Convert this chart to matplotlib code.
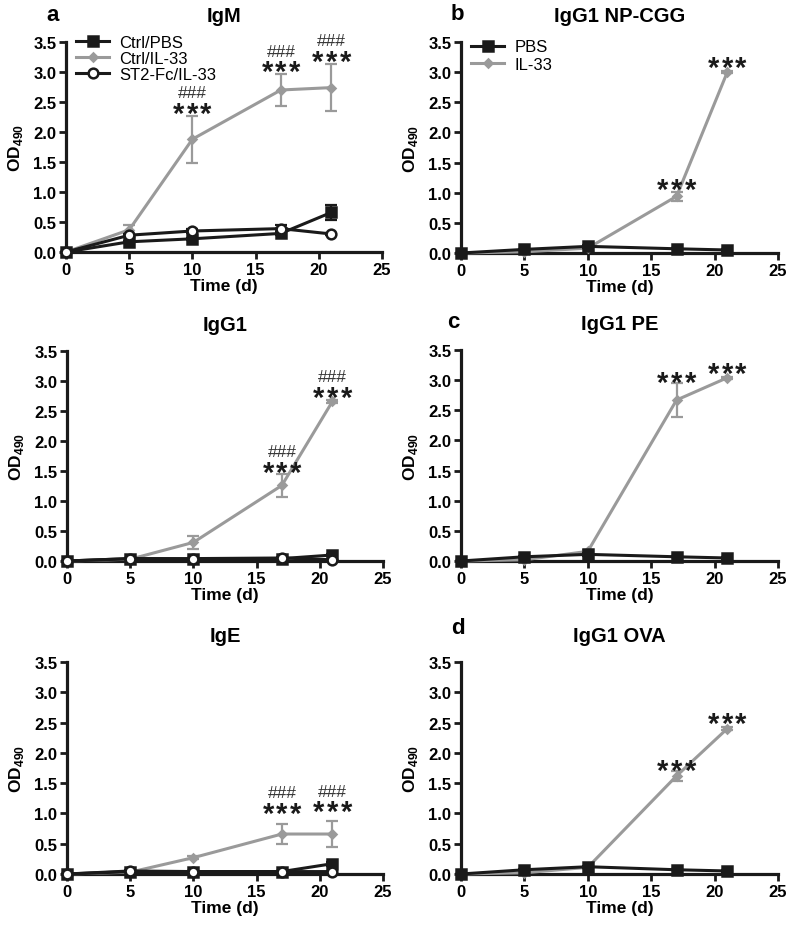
import matplotlib
matplotlib.use("Agg")
import matplotlib.pyplot as plt
import numpy as np

plt.rcParams['font.family'] = ['Liberation Sans', 'DejaVu Sans']
plt.rcParams['mathtext.fontset'] = 'custom'
plt.rcParams['mathtext.rm'] = 'Liberation Sans'
plt.rcParams['mathtext.bf'] = 'Liberation Sans:bold'

days = [0, 5, 10, 17, 21]

# Panel a (IgM)
igm_pbs = [0, 0.17, 0.22, 0.31, 0.66]
igm_pbs_err = [0, 0.02, 0.02, 0.03, 0.12]
igm_il33 = [0, 0.37, 1.88, 2.70, 2.74]
igm_il33_err = [0, 0.08, 0.39, 0.26, 0.39]
igm_st2 = [0, 0.28, 0.35, 0.39, 0.30]
igm_st2_err = [0, 0.02, 0.03, 0.06, 0.02]

# IgG1
igg1_pbs = [0, 0.04, 0.03, 0.04, 0.10]
igg1_pbs_err = [0, 0.01, 0.01, 0.01, 0.02]
igg1_il33 = [0, 0.03, 0.31, 1.26, 2.66]
igg1_il33_err = [0, 0.01, 0.11, 0.19, 0.02]
igg1_st2 = [0, 0.04, 0.04, 0.05, 0.02]
igg1_st2_err = [0, 0.01, 0.01, 0.01, 0.01]

# IgE
ige_pbs = [0, 0.04, 0.04, 0.04, 0.17]
ige_pbs_err = [0, 0.01, 0.01, 0.01, 0.03]
ige_il33 = [0, 0.03, 0.27, 0.66, 0.66]
ige_il33_err = [0, 0.01, 0.02, 0.16, 0.22]
ige_st2 = [0, 0.05, 0.04, 0.04, 0.04]
ige_st2_err = [0, 0.01, 0.01, 0.01, 0.01]

# Panel b (IgG1 NP-CGG)
np_pbs = [0, 0.06, 0.11, 0.07, 0.05]
np_pbs_err = [0, 0.01, 0.02, 0.01, 0.01]
np_il33 = [0, 0.02, 0.08, 0.94, 3.00]
np_il33_err = [0, 0.01, 0.01, 0.08, 0.02]

# Panel c (IgG1 PE)
pe_pbs = [0, 0.07, 0.11, 0.07, 0.05]
pe_pbs_err = [0, 0.01, 0.02, 0.01, 0.01]
pe_il33 = [0, 0.02, 0.16, 2.67, 3.04]
pe_il33_err = [0, 0.01, 0.02, 0.28, 0.02]

# Panel d (IgG1 OVA)
ova_pbs = [0, 0.07, 0.12, 0.07, 0.05]
ova_pbs_err = [0, 0.01, 0.02, 0.01, 0.01]
ova_il33 = [0, 0.02, 0.11, 1.62, 2.40]
ova_il33_err = [0, 0.01, 0.01, 0.08, 0.02]

# Significance annotations: (day, y of stars, show ###)
igm_sig = [(10, 2.41, True), (17, 3.10, True), (21, 3.27, True)]
igg1_sig = [(17, 1.58, True), (21, 2.83, True)]
ige_sig = [(17, 1.10, True), (21, 1.12, True)]
np_sig = [(17, 1.15, False), (21, 3.17, False)]
pe_sig = [(17, 3.06, False), (21, 3.20, False)]
ova_sig = [(17, 1.81, False), (21, 2.58, False)]

GRAY = '#9a9a9a'
BLACK = '#1a1a1a'

fig = plt.figure(figsize=(7.87, 9.28), dpi=100)
W, H = 787, 928

def make_ax(x0, x1, ytop, ybot):
    return fig.add_axes([x0 / W, 1 - ybot / H, (x1 - x0) / W, (ybot - ytop) / H])

def style(ax, title, letter=None, lx=-0.04, ly=1.133):
    ax.set_xlim(0, 25)
    ax.set_ylim(0, 3.5)
    ax.set_xticks([0, 5, 10, 15, 20, 25])
    ax.set_yticks(np.arange(0, 3.51, 0.5))
    ax.set_yticklabels([f"{v:.1f}" for v in np.arange(0, 3.51, 0.5)])
    for s in ['top', 'right']:
        ax.spines[s].set_visible(False)
    for s in ['left', 'bottom']:
        ax.spines[s].set_linewidth(2.3)
        ax.spines[s].set_color(BLACK)
    ax.tick_params(direction='out', length=5, width=2.0, color=BLACK,
                   labelsize=12, pad=2)
    for lab in ax.get_xticklabels() + ax.get_yticklabels():
        lab.set_fontweight('bold')
    ax.set_xlabel('Time (d)', fontsize=12.5, fontweight='bold', labelpad=1)
    ax.set_ylabel(r'OD$_{\mathbf{490}}$', fontsize=12.5, fontweight='bold', labelpad=6)
    ax.set_title(title, fontsize=14.5, fontweight='bold', pad=15)
    if letter:
        ax.text(lx, ly, letter, transform=ax.transAxes, fontsize=16,
                fontweight='bold', ha='center', va='center')

def series(ax, y, err, color, marker, ms, mfc, label, z):
    ax.errorbar(days, y, yerr=err, fmt='none', ecolor=color, capsize=4,
                capthick=1.6, elinewidth=1.6, clip_on=False, zorder=z)
    ax.plot(days, y, color=color, marker=marker, markersize=ms,
            markerfacecolor=mfc, markeredgecolor=color, markeredgewidth=1.8,
            linewidth=2.2, label=label, clip_on=False, zorder=z)

def sig(ax, marks):
    for d, yv, hashes in marks:
        for off in (-9.8, 0, 9.8):
            ax.annotate('*', (d, yv), xytext=(off, -4.5), textcoords='offset points',
                        fontsize=21, fontweight='bold', ha='center', va='center',
                        color=BLACK, annotation_clip=False)
        if hashes:
            ax.annotate('###', (d, yv + 0.25), xytext=(0, 0), textcoords='offset points',
                        fontsize=12.5, ha='center', va='center',
                        color='#333333', annotation_clip=False)

def three_panel(ax, pbs, pe, il, ie, st, se, marks, legend):
    series(ax, il, ie, GRAY, 'D', 4.5, GRAY, 'Ctrl/IL-33', 3)
    series(ax, pbs, pe, BLACK, 's', 7, BLACK, 'Ctrl/PBS', 4)
    series(ax, st, se, BLACK, 'o', 7, 'white', 'ST2-Fc/IL-33', 5)
    sig(ax, marks)
    if legend:
        h, l = ax.get_legend_handles_labels()
        order = [l.index('Ctrl/PBS'), l.index('Ctrl/IL-33'), l.index('ST2-Fc/IL-33')]
        ax.legend([h[i] for i in order], [l[i] for i in order], loc='upper left',
                  bbox_to_anchor=(0.0, 1.08), frameon=False, fontsize=12,
                  handlelength=2.0, handletextpad=0.6, labelspacing=0.05,
                  borderaxespad=0.2)

def two_panel(ax, pbs, pe, il, ie, marks, legend):
    series(ax, il, ie, GRAY, 'D', 4.5, GRAY, 'IL-33', 3)
    series(ax, pbs, pe, BLACK, 's', 7, BLACK, 'PBS', 4)
    sig(ax, marks)
    if legend:
        h, l = ax.get_legend_handles_labels()
        order = [l.index('PBS'), l.index('IL-33')]
        ax.legend([h[i] for i in order], [l[i] for i in order], loc='upper left',
                  bbox_to_anchor=(0.0, 1.06), frameon=False, fontsize=12,
                  handlelength=2.0, handletextpad=0.6, labelspacing=0.15,
                  borderaxespad=0.2)

axa = make_ax(66, 382, 43, 253)
three_panel(axa, igm_pbs, igm_pbs_err, igm_il33, igm_il33_err, igm_st2, igm_st2_err, igm_sig, True)
style(axa, 'IgM', 'a', lx=-0.044, ly=1.133)

axg = make_ax(67, 383, 352, 562)
three_panel(axg, igg1_pbs, igg1_pbs_err, igg1_il33, igg1_il33_err, igg1_st2, igg1_st2_err, igg1_sig, False)
style(axg, 'IgG1')

axe = make_ax(67, 383, 663, 875)
three_panel(axe, ige_pbs, ige_pbs_err, ige_il33, ige_il33_err, ige_st2, ige_st2_err, ige_sig, False)
style(axe, 'IgE')

axb = make_ax(461, 778, 43, 254)
two_panel(axb, np_pbs, np_pbs_err, np_il33, np_il33_err, np_sig, True)
style(axb, 'IgG1 NP-CGG', 'b', lx=-0.013, ly=1.133)

axc = make_ax(461, 778, 351, 562)
two_panel(axc, pe_pbs, pe_pbs_err, pe_il33, pe_il33_err, pe_sig, False)
style(axc, 'IgG1 PE', 'c', lx=-0.025, ly=1.137)

axd = make_ax(461, 778, 663, 875)
two_panel(axd, ova_pbs, ova_pbs_err, ova_il33, ova_il33_err, ova_sig, False)
style(axd, 'IgG1 OVA', 'd', lx=-0.01, ly=1.165)

fig.savefig('out.png', dpi=100)
